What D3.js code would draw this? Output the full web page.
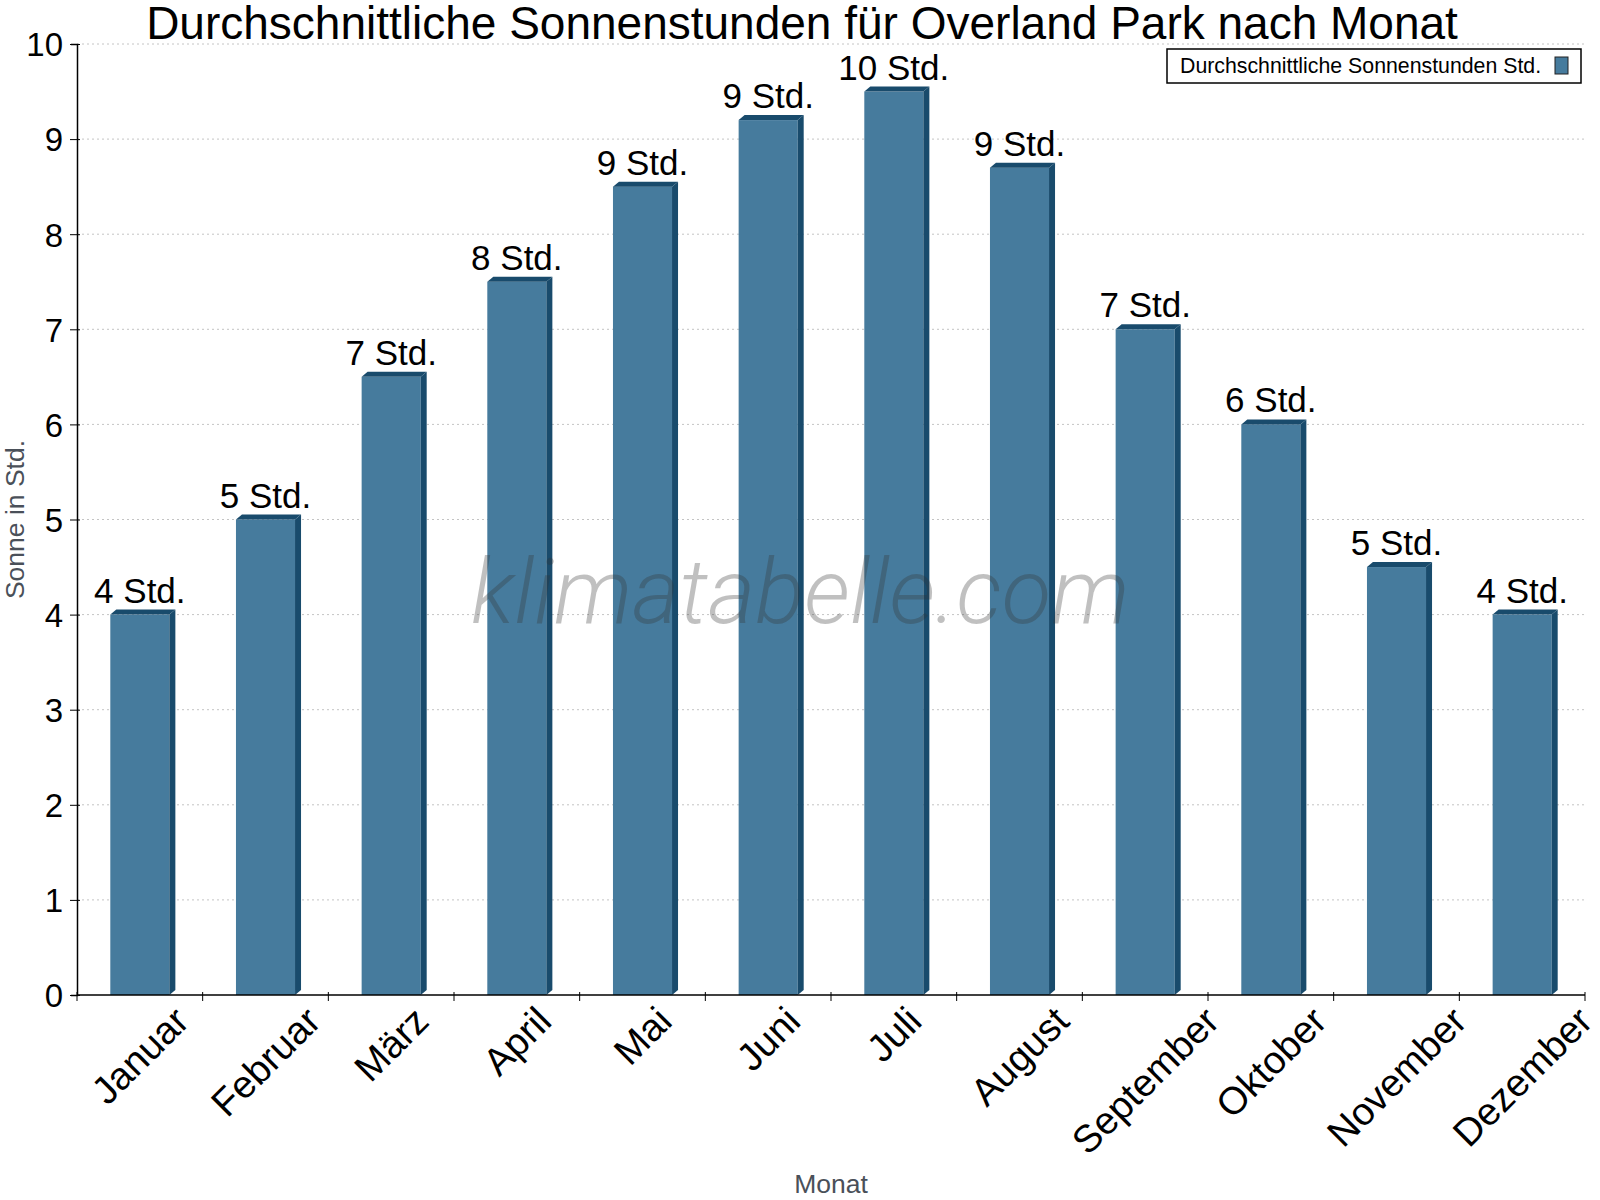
<!DOCTYPE html>
<html>
<head>
<meta charset="utf-8">
<script src="https://cdn.jsdelivr.net/npm/d3@7"></script>
<style>
  body { margin: 0; background: #fff; }
  text { font-family: "Liberation Sans", Arial, sans-serif; }
</style>
</head>
<body>
<div id="chart"></div>
<script>
//Dimensions
const width = 1600;
const height = 1200;
const margin = {top: 44, right: 15, bottom: 205, left: 77};

//Data
const months = ["Januar", "Februar", "März", "April", "Mai", "Juni", "Juli", "August", "September", "Oktober", "November", "Dezember"];
const sunHours = [4, 5, 6.5, 7.5, 8.5, 9.2, 9.5, 8.7, 7, 6, 4.5, 4];
const valueLabels = ["4 Std.", "5 Std.", "7 Std.", "8 Std.", "9 Std.", "9 Std.", "10 Std.", "9 Std.", "7 Std.", "6 Std.", "5 Std.", "4 Std."];
const yTicks = [0, 1, 2, 3, 4, 5, 6, 7, 8, 9, 10];

const frontColor = "#467b9d";
const darkColor = "#194b6c";
const depthX = 6, depthY = 5;

//Create the svg element
const svg = d3.select("#chart").append("svg").attr("width", width).attr("height", height);

//Scales
const x = d3.scaleBand()
    .domain(months)
    .range([margin.left, width - margin.right])
    .paddingInner(0.53)
    .paddingOuter(0.265);

const y = d3.scaleLinear()
    .domain([0, 10])
    .range([height - margin.bottom, margin.top]);

//Grid lines
svg.append("g").selectAll("line")
    .data(yTicks.filter(d => d > 0))
    .enter().append("line")
    .attr("x1", margin.left).attr("x2", width - margin.right)
    .attr("y1", d => y(d)).attr("y2", d => y(d))
    .attr("stroke", "#c4c4c4")
    .attr("stroke-dasharray", "2,3");

//Bars (front, side, top)
const bars = svg.append("g").selectAll("g")
    .data(sunHours)
    .enter().append("g");

bars.append("rect")
    .attr("x", (d, i) => x(months[i]))
    .attr("y", d => y(d))
    .attr("width", x.bandwidth())
    .attr("height", d => y(0) - y(d))
    .attr("fill", frontColor);

bars.append("path")
    .attr("d", (d, i) => {
        const x1 = x(months[i]) + x.bandwidth();
        return `M${x1},${y(d)} L${x1 + depthX},${y(d) - depthY} L${x1 + depthX},${y(0) - depthY} L${x1},${y(0)} Z`;
    })
    .attr("fill", darkColor);

bars.append("path")
    .attr("d", (d, i) => {
        const x0 = x(months[i]);
        const x1 = x0 + x.bandwidth();
        return `M${x0},${y(d)} L${x0 + depthX},${y(d) - depthY} L${x1 + depthX},${y(d) - depthY} L${x1},${y(d)} Z`;
    })
    .attr("fill", darkColor);

//Value labels
bars.append("text")
    .attr("x", (d, i) => x(months[i]) + x.bandwidth() / 2)
    .attr("y", d => y(d) - depthY - 7)
    .attr("text-anchor", "middle")
    .style("font-size", "35px")
    .text((d, i) => valueLabels[i]);

//Watermark (drawn over the bars)
svg.append("text")
    .attr("x", 471).attr("y", 623)
    .text("klimatabelle.com")
    .style("font-family", "Roboto, sans-serif")
    .style("font-weight", 300)
    .style("font-style", "italic")
    .style("font-size", "91px")
    .attr("fill", "#333")
    .attr("opacity", 0.3);

//Y axis
const yAxis = d3.axisLeft(y).tickValues(yTicks).tickSize(6).tickPadding(8);
const yG = svg.append("g").attr("transform", `translate(${margin.left}, 0)`).call(yAxis);
yG.selectAll("text").style("font-size", "33px").attr("fill", "#000").attr("dy", "0.36em");
yG.select(".domain").attr("stroke", "#000").attr("stroke-width", 1.5);
yG.selectAll(".tick line").attr("stroke", "#000").attr("x2", -7).attr("x1", 3);

//X axis
const bounds = months.map(m => x(m) - x.step() * x.paddingInner() / 2).concat([width - margin.right]);
const xG = svg.append("g");
xG.append("line")
    .attr("x1", margin.left).attr("x2", width - margin.right)
    .attr("y1", y(0)).attr("y2", y(0))
    .attr("stroke", "#000").attr("stroke-width", 1.5);
xG.selectAll(".xtick").data(bounds).enter().append("line")
    .attr("x1", d => d).attr("x2", d => d)
    .attr("y1", y(0) - 3).attr("y2", y(0) + 6)
    .attr("stroke", "#000");

//Month labels: rotated box centred under the band, top edge at a fixed line
const labelSize = 38.5;
const labelTop = 1004;
xG.selectAll(".xlabel").data(months).enter().append("text")
    .attr("text-anchor", "middle")
    .attr("dy", "0.35em")
    .style("font-size", labelSize + "px")
    .text(d => d)
    .attr("transform", function(d) {
        const len = this.getComputedTextLength();
        const boxH = (len + labelSize * 0.72) * Math.SQRT1_2;
        return `translate(${x(d) + x.bandwidth() / 2}, ${labelTop + boxH / 2}) rotate(-45)`;
    });

//Axis titles
svg.append("text")
    .attr("transform", `translate(24, ${(y(0) + y(10)) / 2}) rotate(-90)`)
    .attr("text-anchor", "middle")
    .attr("fill", "#4a5059")
    .style("font-size", "26.5px")
    .text("Sonne in Std.");

svg.append("text")
    .attr("x", (margin.left + width - margin.right) / 2)
    .attr("y", 1193)
    .attr("text-anchor", "middle")
    .attr("fill", "#4a5059")
    .style("font-size", "26.5px")
    .text("Monat");

//Title
svg.append("text")
    .attr("x", 802).attr("y", 39)
    .attr("text-anchor", "middle")
    .style("font-size", "46px")
    .text("Durchschnittliche Sonnenstunden für Overland Park nach Monat");

//Legend
const legend = svg.append("g").attr("transform", "translate(1167, 49)");
legend.append("rect").attr("width", 414).attr("height", 34)
    .attr("fill", "#fff").attr("stroke", "#000").attr("stroke-width", 1.5);
legend.append("text").attr("x", 13).attr("y", 24).style("font-size", "21.3px")
    .text("Durchschnittliche Sonnenstunden Std.");
legend.append("rect").attr("x", 388).attr("y", 8).attr("width", 13).attr("height", 17)
    .attr("fill", frontColor).attr("stroke", "#222");
</script>
</body>
</html>
